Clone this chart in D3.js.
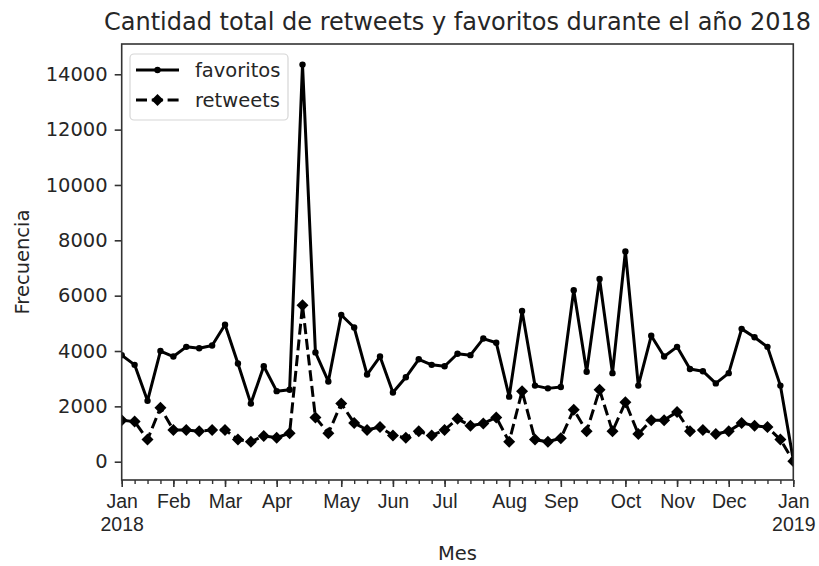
<!DOCTYPE html>
<html>
<head>
<meta charset="utf-8">
<script src="https://cdn.jsdelivr.net/npm/d3@7"></script>
<style>
  html, body { margin: 0; padding: 0; background: #fff; }
  svg { display: block; font-family: "DejaVu Sans", sans-serif; }
</style>
</head>
<body>
<svg id="chart" width="819" height="566"></svg>
<script>
// Weekly totals for 2018 (weeks Monday..Sunday, first week starts 2018-01-01)
const weekStarts = d3.utcMonday.range(new Date(Date.UTC(2018, 0, 1)), new Date(Date.UTC(2019, 0, 1)));

const favoritos = [
  3850, 3500, 2200, 4000, 3800, 4150, 4100, 4200, 4950, 3550,
  2100, 3450, 2550, 2600, 14350, 3950, 2900, 5300, 4850, 3150,
  3800, 2500, 3050, 3700, 3500, 3450, 3900, 3850, 4450, 4300,
  2350, 5450, 2750, 2650, 2700, 6200, 3250, 6600, 3200, 7600,
  2750, 4550, 3800, 4150, 3350, 3270, 2830, 3200, 4800, 4500,
  4150, 2750, 60
];

const retweets = [
  1500, 1450, 800, 1950, 1150, 1150, 1100, 1150, 1150, 800,
  720, 930, 870, 1030, 5650, 1600, 1030, 2100, 1400, 1150,
  1250, 950, 870, 1100, 950, 1150, 1550, 1300, 1380, 1600,
  720, 2550, 800, 720, 850, 1880, 1100, 2600, 1100, 2150,
  1000, 1500, 1500, 1800, 1100, 1150, 1000, 1100, 1400, 1300,
  1250, 800, 20
];

const yTicks = [0, 2000, 4000, 6000, 8000, 10000, 12000, 14000];

const seriesNames = ["favoritos", "retweets"];
const title = "Cantidad total de retweets y favoritos durante el año 2018";
const xLabel = "Mes";
const yLabel = "Frecuencia";

// ---- layout ----
const svg = d3.select("#chart");
const plot = { left: 121.7, right: 793.3, top: 44, bottom: 480 };
const textColor = "#262626";
const fontSize = 19.5;

const x = d3.scaleUtc()
  .domain([weekStarts[0], weekStarts[weekStarts.length - 1]])
  .range([plot.left, plot.right]);

const y = d3.scaleLinear()
  .domain([-661, 15094])
  .range([plot.bottom, plot.top]);

// Clip the series to the axes area
svg.append("defs").append("clipPath").attr("id", "plotClip")
  .append("rect")
  .attr("x", plot.left).attr("y", plot.top)
  .attr("width", plot.right - plot.left).attr("height", plot.bottom - plot.top);

// ---- x axis: weekly minor ticks, monthly major ticks ----
const dayMs = 24 * 3600 * 1000;
const weekEnd = d => new Date(d.getTime() + 6 * dayMs);
const monthFmt = d3.utcFormat("%b");
const majorWeeks = weekStarts.filter((d, i) =>
  i === 0 || weekEnd(d).getUTCMonth() !== weekEnd(weekStarts[i - 1]).getUTCMonth());

svg.append("g")
  .attr("transform", `translate(0,${plot.bottom})`)
  .call(d3.axisBottom(x).tickValues(weekStarts).tickSize(4).tickFormat(""))
  .call(g => g.select(".domain").remove())
  .call(g => g.selectAll(".tick line").attr("stroke", "#333").attr("stroke-width", 1.4));

const xMajor = svg.append("g")
  .attr("transform", `translate(0,${plot.bottom})`)
  .call(d3.axisBottom(x).tickValues(majorWeeks).tickSize(7).tickPadding(8).tickFormat(""))
  .call(g => g.select(".domain").remove())
  .call(g => g.selectAll(".tick line").attr("stroke", "#333").attr("stroke-width", 1.6));

// Month name on the first line, year underneath where the year starts
xMajor.selectAll(".tick").each(function(d) {
  const idx = weekStarts.findIndex(w => w.getTime() === d.getTime());
  const end = weekEnd(d);
  const showYear = idx === 0 || end.getUTCFullYear() !== weekEnd(weekStarts[idx - 1]).getUTCFullYear();
  const tick = d3.select(this);
  tick.select("text").remove();
  tick.append("text")
    .attr("y", 28).attr("text-anchor", "middle")
    .attr("fill", textColor).attr("font-size", fontSize)
    .text(monthFmt(end));
  if (showYear) {
    tick.append("text")
      .attr("y", 50.5).attr("text-anchor", "middle")
      .attr("fill", textColor).attr("font-size", fontSize)
      .text(end.getUTCFullYear());
  }
});

// ---- y axis ----
svg.append("g")
  .attr("transform", `translate(${plot.left},0)`)
  .call(d3.axisLeft(y).tickValues(yTicks).tickSize(7).tickPadding(7).tickFormat(d3.format("d")))
  .call(g => g.select(".domain").remove())
  .call(g => g.selectAll(".tick line").attr("stroke", "#333").attr("stroke-width", 1.6))
  .call(g => g.selectAll(".tick text")
    .attr("fill", textColor)
    .attr("font-size", fontSize)
    .attr("font-family", "DejaVu Sans, sans-serif"));

// ---- series ----
const line = vals => d3.line()
  .x((d, i) => x(weekStarts[i]))
  .y(d => y(d))(vals);

const series = svg.append("g").attr("clip-path", "url(#plotClip)");

series.append("path")
  .attr("d", line(favoritos))
  .attr("fill", "none").attr("stroke", "#000").attr("stroke-width", 3)
  .attr("stroke-linejoin", "round");

series.append("path")
  .attr("d", line(retweets))
  .attr("fill", "none").attr("stroke", "#000").attr("stroke-width", 3)
  .attr("stroke-dasharray", "11,4.8");

series.selectAll("circle.fav")
  .data(favoritos).join("circle")
  .attr("class", "fav")
  .attr("cx", (d, i) => x(weekStarts[i]))
  .attr("cy", d => y(d))
  .attr("r", 3.2).attr("fill", "#000");

const diamond = (cx, cy, r) => `M${cx},${cy - r}L${cx + r},${cy}L${cx},${cy + r}L${cx - r},${cy}Z`;
series.selectAll("path.rt")
  .data(retweets).join("path")
  .attr("class", "rt")
  .attr("d", (d, i) => diamond(x(weekStarts[i]), y(d), 6))
  .attr("fill", "#000");

// ---- frame ----
svg.append("rect")
  .attr("x", plot.left).attr("y", plot.top)
  .attr("width", plot.right - plot.left).attr("height", plot.bottom - plot.top)
  .attr("fill", "none").attr("stroke", "#333").attr("stroke-width", 1.6);

// ---- legend ----
const legend = svg.append("g");
legend.append("rect")
  .attr("x", 130).attr("y", 54).attr("width", 158).attr("height", 66).attr("rx", 4)
  .attr("fill", "#fff").attr("fill-opacity", 0.8)
  .attr("stroke", "#d6d6d6").attr("stroke-width", 1.2);

const legendRows = [
  { name: seriesNames[0], y: 70, dash: null, marker: "circle" },
  { name: seriesNames[1], y: 100, dash: "11,4.8", marker: "diamond" }
];
legendRows.forEach(r => {
  legend.append("line")
    .attr("x1", 136).attr("x2", 179).attr("y1", r.y).attr("y2", r.y)
    .attr("stroke", "#000").attr("stroke-width", 3)
    .attr("stroke-dasharray", r.dash);
  if (r.marker === "circle") {
    legend.append("circle").attr("cx", 157.5).attr("cy", r.y).attr("r", 3.2).attr("fill", "#000");
  } else {
    legend.append("path").attr("d", diamond(157.5, r.y, 6)).attr("fill", "#000");
  }
  legend.append("text")
    .attr("x", 195).attr("y", r.y).attr("dy", "0.35em")
    .attr("fill", textColor).attr("font-size", fontSize)
    .text(r.name);
});

// ---- titles ----
svg.append("text")
  .attr("x", (plot.left + plot.right) / 2).attr("y", 30)
  .attr("text-anchor", "middle").attr("fill", textColor).attr("font-size", 24)
  .text(title);

svg.append("text")
  .attr("x", (plot.left + plot.right) / 2).attr("y", 560)
  .attr("text-anchor", "middle").attr("fill", textColor).attr("font-size", fontSize)
  .text(xLabel);

svg.append("text")
  .attr("transform", `translate(29,${(plot.top + plot.bottom) / 2}) rotate(-90)`)
  .attr("text-anchor", "middle").attr("fill", textColor).attr("font-size", fontSize)
  .text(yLabel);
</script>
</body>
</html>
